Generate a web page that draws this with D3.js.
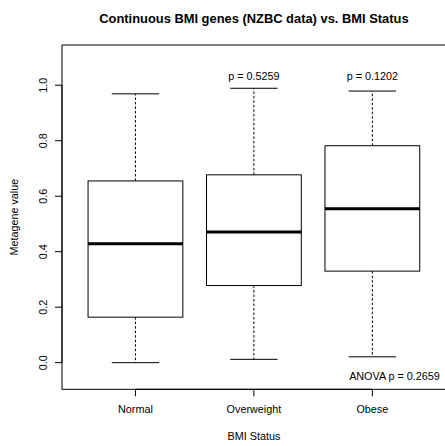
<!DOCTYPE html>
<html>
<head>
<meta charset="utf-8">
<script src="https://cdn.jsdelivr.net/npm/d3@7"></script>
<style>
  html, body { margin: 0; padding: 0; background: #fff; }
  svg { display: block; }
  text { font-family: "Liberation Sans", Arial, Helvetica, sans-serif; fill: #000; }
</style>
</head>
<body>
<svg id="chart" width="445" height="446"></svg>
<script>
// BMI groups and their five-number summaries of the metagene score
const categories = ["Normal", "Overweight", "Obese"];
const lowerWhisker = [0.000, 0.012, 0.021];
const q1 = [0.164, 0.278, 0.330];
const medians = [0.429, 0.471, 0.555];
const q3 = [0.655, 0.677, 0.782];
const upperWhisker = [0.969, 0.989, 0.979];

// Per-group tests against Normal, plus the overall ANOVA
const pLabels = ["", "p = 0.5259", "p = 0.1202"];
const anovaLabel = "ANOVA p = 0.2659";

const yTicks = [0.0, 0.2, 0.4, 0.6, 0.8, 1.0];
const titleText = "Continuous BMI genes (NZBC data) vs. BMI Status";
const xTitle = "BMI Status";
const yTitle = "Metagene value";

const svg = d3.select("#chart");

const plot = { left: 62, top: 45, right: 445.8, bottom: 389.3 };

const x = d3.scaleLinear().domain([0.38, 3.62]).range([plot.left, plot.right]);
const y = d3.scaleLinear().domain([-0.096, 1.145]).range([plot.bottom, plot.top]);

const boxWidth = 0.8;   // in group units
const capWidth = 0.4;

const groups = categories.map((c, i) => ({
  name: c, pos: i + 1,
  lo: lowerWhisker[i], q1: q1[i], med: medians[i], q3: q3[i], hi: upperWhisker[i],
  p: pLabels[i]
}));

// plot frame
svg.append("rect")
  .attr("x", plot.left).attr("y", plot.top)
  .attr("width", plot.right - plot.left).attr("height", plot.bottom - plot.top)
  .attr("fill", "none").attr("stroke", "#000").attr("stroke-width", 1);

const g = svg.append("g");

// whiskers (dashed)
g.selectAll(".whisker-up").data(groups).join("line")
  .attr("x1", d => x(d.pos)).attr("x2", d => x(d.pos))
  .attr("y1", d => y(d.q3)).attr("y2", d => y(d.hi))
  .attr("stroke", "#000").attr("stroke-dasharray", "2.5,2");
g.selectAll(".whisker-down").data(groups).join("line")
  .attr("x1", d => x(d.pos)).attr("x2", d => x(d.pos))
  .attr("y1", d => y(d.q1)).attr("y2", d => y(d.lo))
  .attr("stroke", "#000").attr("stroke-dasharray", "2.5,2");

// staples
g.selectAll(".cap-up").data(groups).join("line")
  .attr("x1", d => x(d.pos - capWidth / 2)).attr("x2", d => x(d.pos + capWidth / 2))
  .attr("y1", d => y(d.hi)).attr("y2", d => y(d.hi))
  .attr("stroke", "#000");
g.selectAll(".cap-down").data(groups).join("line")
  .attr("x1", d => x(d.pos - capWidth / 2)).attr("x2", d => x(d.pos + capWidth / 2))
  .attr("y1", d => y(d.lo)).attr("y2", d => y(d.lo))
  .attr("stroke", "#000");

// boxes
g.selectAll(".box").data(groups).join("rect")
  .attr("x", d => x(d.pos - boxWidth / 2))
  .attr("width", d => x(d.pos + boxWidth / 2) - x(d.pos - boxWidth / 2))
  .attr("y", d => y(d.q3))
  .attr("height", d => y(d.q1) - y(d.q3))
  .attr("fill", "#fff").attr("stroke", "#000").attr("stroke-width", 1);

// medians
g.selectAll(".median").data(groups).join("line")
  .attr("x1", d => x(d.pos - boxWidth / 2)).attr("x2", d => x(d.pos + boxWidth / 2))
  .attr("y1", d => y(d.med)).attr("y2", d => y(d.med))
  .attr("stroke", "#000").attr("stroke-width", 3);

// p-value labels above whiskers
g.selectAll(".plabel").data(groups.filter(d => d.p)).join("text")
  .attr("x", d => x(d.pos)).attr("y", 80)
  .attr("text-anchor", "middle").attr("font-size", "10.8px")
  .text(d => d.p);

svg.append("text")
  .attr("x", 394.5).attr("y", 379.5)
  .attr("text-anchor", "middle").attr("font-size", "10.8px")
  .text(anovaLabel);

// y axis
const yAxis = svg.append("g");
yAxis.append("line")
  .attr("x1", plot.left).attr("x2", plot.left)
  .attr("y1", y(yTicks[0])).attr("y2", y(yTicks[yTicks.length - 1]))
  .attr("stroke", "#000");
yAxis.selectAll(".ytick").data(yTicks).join("line")
  .attr("x1", plot.left).attr("x2", plot.left - 7)
  .attr("y1", d => y(d)).attr("y2", d => y(d))
  .attr("stroke", "#000");
yAxis.selectAll(".ylabel").data(yTicks).join("text")
  .attr("transform", d => `translate(47,${y(d)}) rotate(-90)`)
  .attr("text-anchor", "middle").attr("font-size", "10.8px")
  .text(d => d3.format(".1f")(d));

// x axis
const xAxis = svg.append("g");
xAxis.append("line")
  .attr("x1", x(1)).attr("x2", x(3))
  .attr("y1", plot.bottom).attr("y2", plot.bottom)
  .attr("stroke", "#000");
xAxis.selectAll(".xtick").data(groups).join("line")
  .attr("x1", d => x(d.pos)).attr("x2", d => x(d.pos))
  .attr("y1", plot.bottom).attr("y2", plot.bottom + 7)
  .attr("stroke", "#000");
xAxis.selectAll(".xlabel").data(groups).join("text")
  .attr("x", d => x(d.pos)).attr("y", 413)
  .attr("text-anchor", "middle").attr("font-size", "10.8px")
  .text(d => d.name);

// titles
svg.append("text")
  .attr("x", (plot.left + plot.right) / 2).attr("y", 22.5)
  .attr("text-anchor", "middle").attr("font-size", "12.9px").attr("font-weight", "bold")
  .text(titleText);
svg.append("text")
  .attr("x", (plot.left + plot.right) / 2).attr("y", 440)
  .attr("text-anchor", "middle").attr("font-size", "10.8px")
  .text(xTitle);
svg.append("text")
  .attr("transform", `translate(18,${(plot.top + plot.bottom) / 2}) rotate(-90)`)
  .attr("text-anchor", "middle").attr("font-size", "10.8px")
  .text(yTitle);
</script>
</body>
</html>
